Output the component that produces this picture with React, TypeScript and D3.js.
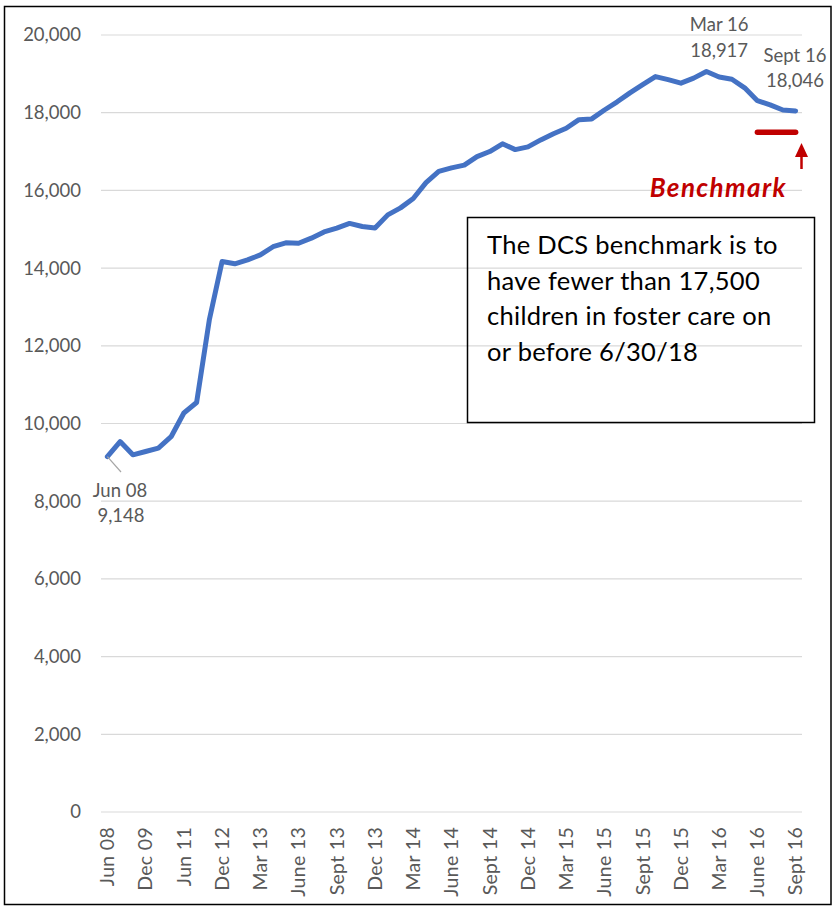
import * as d3 from "d3";
import React from "react";

// monthly foster care counts (semiannual until Dec 12, monthly after)
const categories = [
  "Jun 08", "Dec 08", "Jun 09", "Dec 09", "Jun 10", "Dec 10", "Jun 11", "Dec 11", "Jun 12", "Dec 12",
  "Jan 13", "Feb 13", "Mar 13", "Apr 13", "May 13", "June 13", "July 13", "Aug 13", "Sept 13", "Oct 13", "Nov 13", "Dec 13",
  "Jan 14", "Feb 14", "Mar 14", "Apr 14", "May 14", "June 14", "July 14", "Aug 14", "Sept 14", "Oct 14", "Nov 14", "Dec 14",
  "Jan 15", "Feb 15", "Mar 15", "Apr 15", "May 15", "June 15", "July 15", "Aug 15", "Sept 15", "Oct 15", "Nov 15", "Dec 15",
  "Jan 16", "Feb 16", "Mar 16", "Apr 16", "May 16", "June 16", "July 16", "Aug 16", "Sept 16",
];

const children = [
  9148, 9535, 9193, 9280, 9365, 9660, 10270, 10540, 12670, 14170,
  14110, 14210, 14340, 14550, 14650, 14640, 14770, 14930, 15030, 15150,
  15070, 15030, 15370, 15550, 15790, 16200, 16490, 16580, 16650, 16870,
  17000, 17200, 17050, 17120, 17300, 17460, 17600, 17820, 17840, 18070,
  18280, 18510, 18720, 18930, 18850, 18760, 18890, 19060, 18917, 18860,
  18640, 18310, 18200, 18070, 18046,
];

const yTicks = [0, 2000, 4000, 6000, 8000, 10000, 12000, 14000, 16000, 18000, 20000];

const benchmark = 17500;
const benchmarkFrom = "June 16";
const benchmarkTo = "Sept 16";

const pointLabels = [
  { cat: "Jun 08", name: "Jun 08", value: 9148 },
  { cat: "Mar 16", name: "Mar 16", value: 18917 },
  { cat: "Sept 16", name: "Sept 16", value: 18046 },
];

const noteLines = [
  "The DCS benchmark is to",
  "have fewer than 17,500",
  "children in foster care on",
  "or before 6/30/18",
];

const W = 836;
const H = 908;
const font = "Lato, 'Open Sans', sans-serif";
const grey = "#595959";
const red = "#C00000";

const App: React.FC = () => {
  const x = d3.scaleBand<string>().domain(categories).range([101, 802]);
  const y = d3.scaleLinear().domain([0, 20000]).range([812, 35]);
  const cx = (c: string) => (x(c) as number) + x.bandwidth() / 2;
  const fmt = d3.format(",");

  const line = d3
    .line<number>()
    .x((_, i) => cx(categories[i]))
    .y((d) => y(d));

  const [jun08, mar16, sep16] = pointLabels;

  return (
    <div style={{ position: "absolute", left: 0, top: 0 }}>
      <svg width={W} height={H} style={{ display: "block", fontFamily: font }}>
        <rect x={0} y={0} width={W} height={H} fill="#fff" />
        <rect x={4.5} y={6.5} width={826.5} height={898} fill="none" stroke="#000" strokeWidth={1.5} />

        {/* gridlines + y labels */}
        {yTicks.map((t) => (
          <g key={t}>
            <line x1={101} x2={802} y1={y(t)} y2={y(t)} stroke="#D9D9D9" strokeWidth={1.2} />
            <text x={81} y={y(t)} dy="0.35em" textAnchor="end" fontSize={18.5} fill={grey}>
              {fmt(t)}
            </text>
          </g>
        ))}

        {/* x labels, every third category */}
        {categories.map((c, i) =>
          i % 3 === 0 ? (
            <text
              key={c}
              transform={`translate(${cx(c)},827) rotate(-90)`}
              dy="0.35em"
              textAnchor="end"
              fontSize={19.5}
              letterSpacing={0.3}
              fill={grey}
            >
              {c}
            </text>
          ) : null
        )}

        {/* text box (transparent) */}
        <rect x={467.5} y={217.5} width={347} height={205} fill="none" stroke="#000" strokeWidth={1.5} />
        {noteLines.map((s, i) => (
          <text key={s} x={487} y={254 + i * 35.5} fontSize={25.5} letterSpacing={0.3} fill="#000">
            {s}
          </text>
        ))}

        {/* series */}
        <path
          d={line(children) as string}
          fill="none"
          stroke="#4472C4"
          strokeWidth={5}
          strokeLinejoin="round"
          strokeLinecap="round"
        />

        {/* benchmark */}
        <line
          x1={cx(benchmarkFrom)}
          x2={cx(benchmarkTo)}
          y1={y(benchmark)}
          y2={y(benchmark)}
          stroke={red}
          strokeWidth={5.5}
          strokeLinecap="round"
        />
        <line x1={801.5} x2={801.5} y1={169} y2={155} stroke={red} strokeWidth={2.5} />
        <path d="M801.5,143 L808,157 L795,157 Z" fill={red} />
        <text
          x={787}
          y={197}
          textAnchor="end"
          fontSize={26}
          letterSpacing={1.4}
          fontWeight="bold"
          fontStyle="italic"
          fill={red}
        >
          Benchmark
        </text>

        {/* data labels */}
        <line
          x1={cx(jun08.cat)}
          y1={y(jun08.value)}
          x2={121}
          y2={472}
          stroke="#A6A6A6"
          strokeWidth={1.2}
        />
        <text x={120} y={497} textAnchor="middle" fontSize={18.5} fill={grey}>
          {jun08.name}
        </text>
        <text x={121} y={522} textAnchor="middle" fontSize={18.5} fill={grey}>
          {fmt(jun08.value)}
        </text>

        <text x={cx(mar16.cat)} y={31} textAnchor="middle" fontSize={18.5} fill={grey}>
          {mar16.name}
        </text>
        <text x={cx(mar16.cat)} y={57} textAnchor="middle" fontSize={18.5} fill={grey}>
          {fmt(mar16.value)}
        </text>

        <text x={795} y={62} textAnchor="middle" fontSize={18.5} fill={grey}>
          {sep16.name}
        </text>
        <text x={795} y={87} textAnchor="middle" fontSize={18.5} fill={grey}>
          {fmt(sep16.value)}
        </text>
      </svg>
    </div>
  );
};

export default App;
